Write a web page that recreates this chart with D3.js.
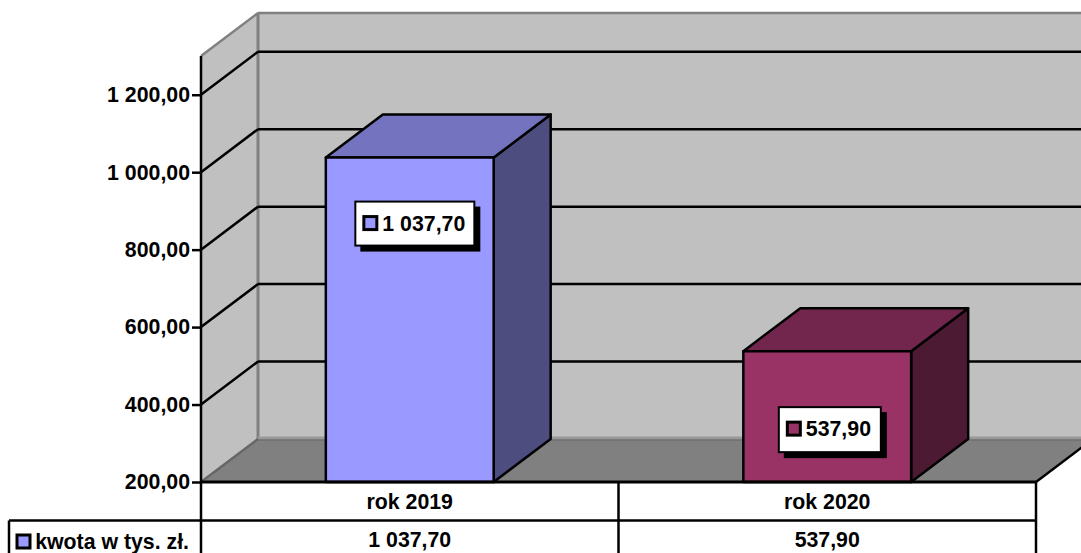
<!DOCTYPE html>
<html><head><meta charset="utf-8">
<script src="https://cdn.jsdelivr.net/npm/d3@7"></script>
<style>html,body{margin:0;padding:0;background:#fff;overflow:hidden}svg{display:block}
text{font-family:"Liberation Sans",Arial,sans-serif;font-weight:700;font-size:21.3px;fill:#000}</style>
</head><body><svg id="c" width="1081" height="553"></svg>
<script>
const categories=["rok 2019","rok 2020"];
const values=[1037.70,537.90];
const valueLabels=["1 037,70","537,90"];
const axisTicks=[200,400,600,800,1000,1200];
const tickLabels=["200,00","400,00","600,00","800,00","1 000,00","1 200,00"];
const seriesName="kwota w tys. zł.";
const frontColors=["#9999ff","#993366"];
const topColors=["#7373bf","#73264d"];
const sideColors=["#4d4d80","#4d1a33"];

const svg=d3.select("#c");
const L=201,R=1036,B=482,dx=57,dy=43,rowY=520.5,H=553;
const y=d3.scaleLinear().domain([200,1300]).range([B,56]);
const x=d3.scaleBand().domain(categories).range([L,R]).paddingInner(0.598).paddingOuter(0.299);
const poly=(pts,fill,stroke,sw)=>svg.append("polygon").attr("points",pts.map(p=>p.join(",")).join(" "))
  .attr("fill",fill).attr("stroke",stroke||"none").attr("stroke-width",sw||0).attr("stroke-linejoin","round");
const line=(x1,y1,x2,y2,c,w)=>svg.append("line").attr("x1",x1).attr("y1",y1).attr("x2",x2).attr("y2",y2).attr("stroke",c).attr("stroke-width",w);

const T=y(1300);
// side wall, back wall, floor
poly([[L,B],[L+dx,B-dy],[L+dx,T-dy],[L,T]],"#c0c0c0");
poly([[L+dx,B-dy],[R+dx,B-dy],[R+dx,T-dy],[L+dx,T-dy]],"#c0c0c0");
poly([[L,B],[L+dx,B-dy],[R+dx,B-dy],[R,B]],"#808080");
// wall edges
line(L,T,L+dx,T-dy,"#808080",2.5);
line(L+dx,T-dy,L+dx,B-dy,"#808080",3);
line(L+dx,T-dy,R+dx,T-dy,"#808080",2.5);
line(L+dx,B-dy-1,R+dx,B-dy-1,"#999",3);
line(L,B,L+dx,B-dy,"#666",2.5);
line(L+dx,B-dy+1,R+dx,B-dy+1,"#666",1);

// gridlines
axisTicks.slice(1).forEach(v=>{
  line(L,y(v),L+dx,y(v)-dy,"#000",2.5);
  line(L+dx,y(v)-dy,R+dx,y(v)-dy,"#000",2.5);
});

// bars
categories.forEach((c,i)=>{
  const x0=x(c),x1=x0+x.bandwidth(),t=y(values[i]);
  poly([[x1,B],[x1+dx,B-dy],[x1+dx,t-dy],[x1,t]],sideColors[i],"#000",2.5);
  poly([[x0,t],[x0+dx,t-dy],[x1+dx,t-dy],[x1,t]],topColors[i],"#000",2.5);
  poly([[x0,t],[x1,t],[x1,B],[x0,B]],frontColors[i],"#000",2.5);
});

// axis
const axis=svg.append("g").attr("transform",`translate(${L},0)`)
  .call(d3.axisLeft(y).tickValues(axisTicks).tickSize(9).tickPadding(2).tickFormat((d,i)=>tickLabels[i]));
axis.selectAll("path").remove();
axis.selectAll("line").attr("stroke","#000").attr("stroke-width",2.5);
axis.selectAll("text").attr("fill","#000").style("font-family",'"Liberation Sans",Arial,sans-serif').style("font-size","21.3px").style("font-weight",700);
line(L,T,L,H,"#000",2.5);

// data table
line(L-1,B,R,B,"#000",3);
line(9,rowY,R,rowY,"#000",2.5);
line(9,rowY,9,H,"#000",2.5);
line(R,B,R,H,"#000",2.5);
line(R,B,R+dx,B-dy,"#000",2.5);
const cell=[L,(L+R)/2,R];
line(cell[1],B,cell[1],H,"#000",2.5);
categories.forEach((c,i)=>{
  const cx=(cell[i]+cell[i+1])/2;
  svg.append("text").attr("x",cx).attr("y",509).attr("text-anchor","middle").text(c);
  svg.append("text").attr("x",cx).attr("y",547).attr("text-anchor","middle").text(valueLabels[i]);
});
svg.append("rect").attr("x",17).attr("y",535).attr("width",13).attr("height",13).attr("fill",frontColors[0]).attr("stroke","#000").attr("stroke-width",3);
svg.append("text").attr("x",189).attr("y",548.5).attr("text-anchor","end").text(seriesName);

// value labels
const boxes=[{w:119,h:44,off:29.5,cy:66},{w:102,h:45,off:35.5,cy:78}];
categories.forEach((c,i)=>{
  const b=boxes[i],bx=x(c)+b.off,by=y(values[i])+b.cy-22;
  const g=svg.append("g").attr("transform",`translate(${bx},${by})`);
  g.append("rect").attr("x",5).attr("y",5).attr("width",b.w+1).attr("height",b.h+1).attr("fill","#000");
  g.append("rect").attr("width",b.w).attr("height",b.h).attr("fill","#fff").attr("stroke","#000").attr("stroke-width",2);
  g.append("rect").attr("x",8.5).attr("y",15).attr("width",13).attr("height",13).attr("fill",frontColors[i]).attr("stroke","#000").attr("stroke-width",3);
  g.append("text").attr("x",27).attr("y",29).text(valueLabels[i]);
});
</script></body></html>
